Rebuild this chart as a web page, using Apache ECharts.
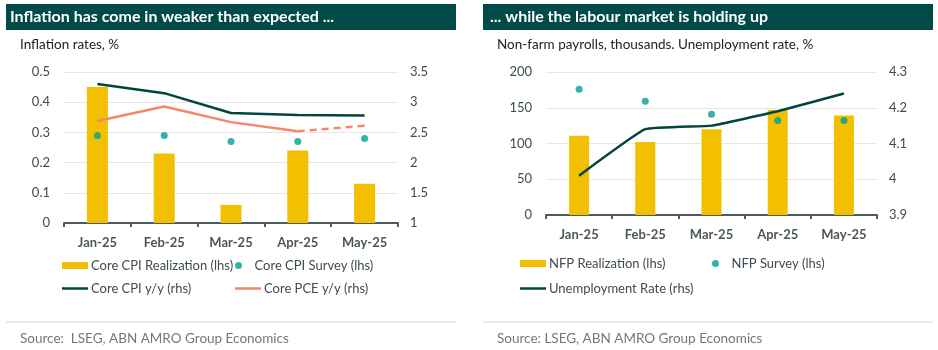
<!DOCTYPE html>
<html>
<head>
<meta charset="utf-8">
<script src="https://cdn.jsdelivr.net/npm/echarts@6/dist/echarts.min.js"></script>
<style>
  html, body { margin: 0; padding: 0; background: #fff; }
  #chart { width: 938px; height: 350px; }
</style>
</head>
<body>
<div id="chart"></div>
<script>
// data
const months = ['Jan-25', 'Feb-25', 'Mar-25', 'Apr-25', 'May-25'];
const coreCpiMoM = [0.45, 0.23, 0.06, 0.24, 0.13];
const coreCpiSurvey = [0.29, 0.29, 0.27, 0.27, 0.28];
const coreCpiYoY = [3.3, 3.15, 2.82, 2.79, 2.78];
const corePceYoY = [2.69, 2.93, 2.67, 2.52, null];
const corePceFcst = [null, null, null, 2.52, 2.61];
const nfpActual = [111, 102, 120, 147, 139];
const nfpSurvey = [176, 159, 141, 132, 132];
const unempRate = [4.01, 4.14, 4.15, 4.19, 4.24];

const FONT = 'Lato';
const TXT = '#3f4b52';
const YELLOW = '#f2c000';
const TEAL = '#00a08e';
const DARK = '#00463f';
const SALMON = '#f4866a';

const axisLabel = { color: TXT, fontSize: 13, fontFamily: FONT };

function catAxis(gridIndex) {
  return {
    type: 'category', gridIndex, data: months,
    axisLine: { lineStyle: { color: '#4b5960', width: 2 } },
    axisTick: { show: true, length: 4, lineStyle: { color: '#4b5960', width: 2 } },
    axisLabel: { margin: 13, fontWeight: 'bold', color: '#4b565c', fontSize: 13, fontFamily: FONT }
  };
}

function valAxis(gridIndex, min, max, interval, pos, grid) {
  return {
    type: 'value', gridIndex, min, max, interval, position: pos,
    axisLine: { show: false }, axisTick: { show: false },
    splitLine: { show: grid, lineStyle: { color: '#e6e6e6', width: 1 } },
    axisLabel: Object.assign({ margin: pos === 'left' ? 14 : 12 }, axisLabel)
  };
}

function legendItem(name, left, top, icon, w, h) {
  return {
    data: [{ name, icon }], left, top, itemWidth: w, itemHeight: h, itemGap: 0,
    textStyle: { color: TXT, fontSize: 13, fontFamily: FONT, padding: [0, 0, 0, -2] },
    padding: 0, selectedMode: false
  };
}

const option = {
  animation: false,
  graphic: [
    { type: 'rect', shape: { x: 6, y: 4, width: 450, height: 26 }, style: { fill: '#004b47' } },
    { type: 'text', x: 10, y: 17, style: { text: 'Inflation has come in weaker than expected ...', fill: '#fff', font: 'bold 16px Lato', textVerticalAlign: 'middle' } },
    { type: 'rect', shape: { x: 483, y: 4, width: 450, height: 26 }, style: { fill: '#004b47' } },
    { type: 'text', x: 490, y: 17, style: { text: '... while the labour market is holding up', fill: '#fff', font: 'bold 16px Lato', textVerticalAlign: 'middle' } },
    { type: 'text', x: 20, y: 45, style: { text: 'Inflation rates, %', fill: '#222', font: '13.5px Lato', textVerticalAlign: 'middle' } },
    { type: 'text', x: 497, y: 45, style: { text: 'Non-farm payrolls, thousands. Unemployment rate, %', fill: '#222', font: '13.5px Lato', textVerticalAlign: 'middle' } },
    { type: 'line', shape: { x1: 6, y1: 322, x2: 456, y2: 322 }, style: { stroke: '#d4d4d4', lineWidth: 1 } },
    { type: 'line', shape: { x1: 483, y1: 322, x2: 933, y2: 322 }, style: { stroke: '#d4d4d4', lineWidth: 1 } },
    { type: 'text', x: 20, y: 339, style: { text: 'Source:  LSEG, ABN AMRO Group Economics', fill: '#777', font: '13.5px Lato', textVerticalAlign: 'middle' } },
    { type: 'text', x: 497, y: 339, style: { text: 'Source: LSEG, ABN AMRO Group Economics', fill: '#777', font: '13.5px Lato', textVerticalAlign: 'middle' } }
  ],
  grid: [
    { left: 64, right: 540, top: 72, bottom: 127 },
    { left: 546, right: 61, top: 72, bottom: 135 }
  ],
  xAxis: [catAxis(0), catAxis(1)],
  yAxis: [
    valAxis(0, 0, 0.5, 0.1, 'left', true),
    valAxis(0, 1, 3.5, 0.5, 'right', false),
    valAxis(1, 0, 200, 50, 'left', true),
    valAxis(1, 3.9, 4.3, 0.1, 'right', false)
  ],
  legend: [
    legendItem('Core CPI Realization (lhs)', 62, 259, 'rect', 26, 7),
    legendItem('Core CPI Survey (lhs)', 235, 259, 'circle', 26, 7),
    legendItem('Core CPI y/y (rhs)', 62, 282, 'rect', 26, 2.5),
    legendItem('Core PCE y/y (rhs)', 235, 282, 'rect', 26, 2.5),
    legendItem('NFP Realization (lhs)', 520, 257, 'rect', 26, 7),
    legendItem('NFP Survey (lhs)', 712, 257, 'circle', 26, 7),
    legendItem('Unemployment Rate (rhs)', 520, 282, 'rect', 26, 2.5)
  ],
  series: [
    { name: 'Core CPI Realization (lhs)', type: 'bar', xAxisIndex: 0, yAxisIndex: 0, data: coreCpiMoM, barWidth: 21, itemStyle: { color: YELLOW } },
    { name: 'Core CPI Survey (lhs)', type: 'scatter', xAxisIndex: 0, yAxisIndex: 0, data: coreCpiSurvey, symbolSize: 7, itemStyle: { color: TEAL } },
    { name: 'Core CPI y/y (rhs)', type: 'line', xAxisIndex: 0, yAxisIndex: 1, data: coreCpiYoY, symbol: 'none', lineStyle: { color: DARK, width: 2.5 }, itemStyle: { color: DARK } },
    { name: 'Core PCE y/y (rhs)', type: 'line', xAxisIndex: 0, yAxisIndex: 1, data: corePceYoY, symbol: 'none', lineStyle: { color: SALMON, width: 2.5 }, itemStyle: { color: SALMON } },
    { name: 'Core PCE y/y fcst', type: 'line', xAxisIndex: 0, yAxisIndex: 1, data: corePceFcst, symbol: 'none', lineStyle: { color: SALMON, width: 2.5, type: [7, 5] }, itemStyle: { color: SALMON } },
    { name: 'NFP Realization (lhs)', type: 'bar', xAxisIndex: 1, yAxisIndex: 2, data: nfpActual, barWidth: 20, itemStyle: { color: YELLOW } },
    { name: 'NFP Survey (lhs)', type: 'scatter', xAxisIndex: 1, yAxisIndex: 2, data: nfpSurvey, symbolSize: 7, itemStyle: { color: TEAL } },
    { name: 'Unemployment Rate (rhs)', type: 'line', xAxisIndex: 1, yAxisIndex: 3, data: unempRate, symbol: 'none', smooth: 0.1, lineStyle: { color: DARK, width: 2.5 }, itemStyle: { color: DARK } }
  ]
};

const myChart = echarts.init(document.getElementById('chart'));
myChart.setOption(option);
</script>
</body>
</html>
